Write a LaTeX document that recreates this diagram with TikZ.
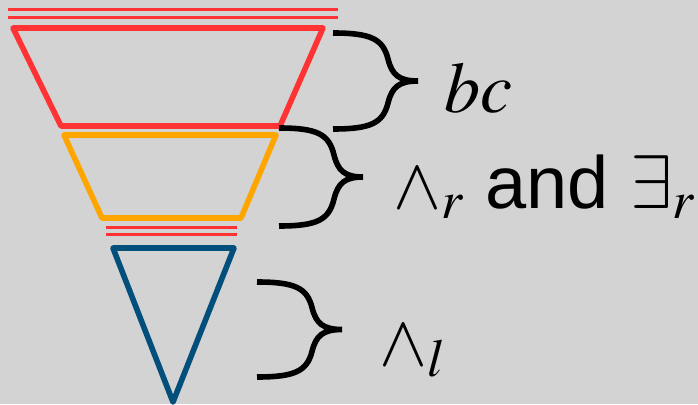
\documentclass[tikz,border=0pt]{standalone}
\usepackage{mathptmx}
\usepackage[no-math]{fontspec}
\newfontfamily\arialfont{Liberation Sans}
\definecolor{bgc}{RGB}{211,211,211}
\definecolor{redc}{RGB}{255,51,51}
\definecolor{orc}{RGB}{255,165,0}
\definecolor{bluec}{RGB}{3,79,124}
\tikzset{
  shapeline/.style={line width=5.6pt, line join=round},
  thinred/.style={redc, line width=3pt},
  bracestyle/.style={black, line width=5.6pt},
  lbl/.style={anchor=base west, inner sep=0pt, font=\fontsize{72}{80}\selectfont}
}
\newcommand{\mybrace}[4]{% x0 ytop ybot xtip
  \draw[bracestyle] (#1,#2) .. controls ({#1+38},#2) and ({#1+50},{#2+6}) .. ({#1+55},{(#2+#3)/2-22})
    .. controls ({#1+59},{(#2+#3)/2-6}) and ({#1+66},{(#2+#3)/2}) .. (#4,{(#2+#3)/2})
    .. controls ({#1+66},{(#2+#3)/2}) and ({#1+59},{(#2+#3)/2+6}) .. ({#1+55},{(#2+#3)/2+22})
    .. controls ({#1+50},{#3-6}) and ({#1+38},#3) .. (#1,#3);}
\begin{document}
\begin{tikzpicture}[x=1pt,y=-1pt]
\fill[bgc] (0,0) rectangle (698,404);
\useasboundingbox (0,0) rectangle (698,404);
% top red double line
\draw[thinred] (8,10) -- (338,10);
\draw[thinred] (8,18) -- (338,18);
% red trapezoid
\draw[shapeline, redc] (13,28) -- (323,28) -- (280,126) -- (61,126) -- cycle;
% orange trapezoid
\draw[shapeline, orc] (64,135) -- (276,135) -- (241,218) -- (102,218) -- cycle;
% middle red double line
\draw[thinred] (106,227) -- (237,227);
\draw[thinred] (106,234) -- (237,234);
% blue triangle
\draw[shapeline, bluec] (113,248) -- (234,248) -- (173,402) -- cycle;
% braces
\mybrace{333}{33}{129}{418}
\mybrace{279}{128}{226}{363}
\mybrace{257}{282}{377}{342}
% labels
\node[lbl] (lbc) at (444,112) {$bc$};
\node[lbl] (lar) at (393,208) {$\wedge_r$ {\arialfont\fontsize{74}{80}\selectfont and}\hspace{22pt}{\fontsize{76}{84}\selectfont$\exists$}${}_r$};
\node[lbl] (lal) at (379,365) {$\wedge_l$};
\end{tikzpicture}
\end{document}
